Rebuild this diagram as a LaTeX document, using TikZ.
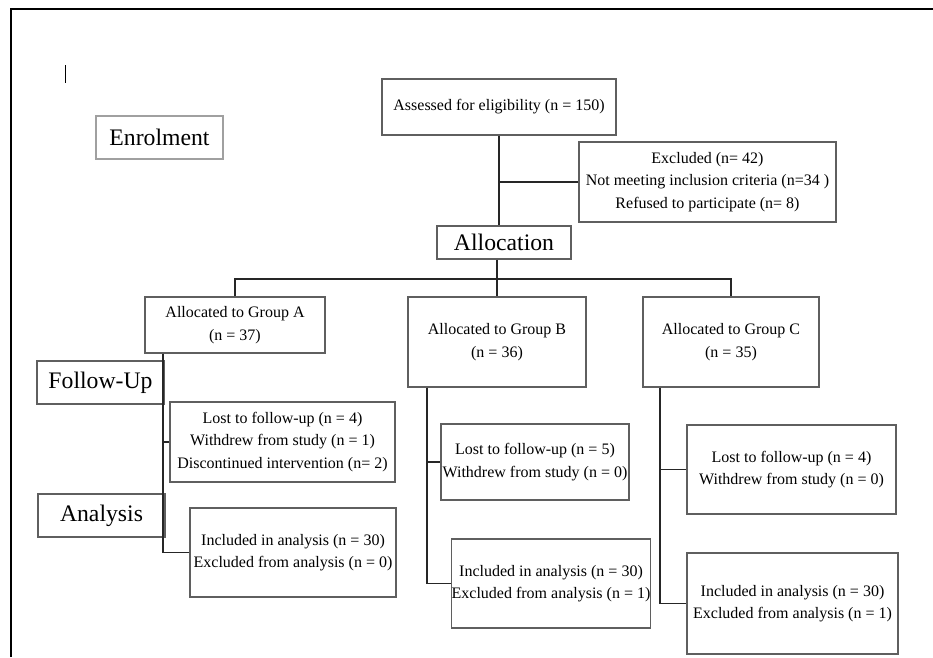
\documentclass[tikz,border=0pt]{standalone}
\usepackage{fontspec}
\setmainfont{Liberation Serif}
\definecolor{boxgray}{RGB}{95,95,95}
\definecolor{lightgray}{RGB}{160,160,160}
\tikzset{
  box/.style 2 args={draw=boxgray, line width=1.3pt, align=center, inner sep=0pt,
    minimum width=#1, minimum height=#2, font=\fontsize{16}{22.5}\selectfont},
  stage/.style 2 args={box={#1}{#2}, font=\fontsize{23.7}{28}\selectfont},
  link/.style={draw=black!85, line width=1.4pt},
}
\begin{document}
\begin{tikzpicture}[x=1pt,y=-1pt]
  \useasboundingbox (0,0) rectangle (933,657);
  \draw[line width=2pt] (11,657) -- (11,9) -- (933,9);
  \draw[line width=1pt] (65,65) -- (65,83);
  \draw
    (159.5,137.5) node[stage={127pt}{43pt}, draw=lightgray] (enrol){Enrolment}
    (499,107) node[box={234pt}{56pt}] (assess){Assessed for eligibility (n = 150)}
    (707.5,182) node[box={257pt}{80pt}] (excl){Excluded (n= 42)\\Not meeting inclusion criteria (n=34 )\\Refused to participate (n= 8)}
    (504,242.5) node[stage={134pt}{33pt}] (alloc){Allocation}
    (235,325) node[box={180pt}{56pt}] (grpA){Allocated to Group A\\(n = 37)}
    (497,342) node[box={178pt}{90pt}] (grpB){Allocated to Group B\\(n = 36)}
    (731,342) node[box={176pt}{90pt}] (grpC){Allocated to Group C\\(n = 35)}
    (100.5,382.5) node[stage={127pt}{43pt}] (fu){Follow-Up}
    (101.5,515.5) node[stage={127pt}{43pt}] (ana){Analysis}
    (282.5,442) node[box={225pt}{80pt}] (lostA){Lost to follow-up (n = 4)\\Withdrew from study (n = 1)\\Discontinued intervention (n= 2)}
    (293,552.5) node[box={206pt}{89pt}] (inclA){Included in analysis (n = 30)\\Excluded from analysis (n = 0)}
    (535,462) node[box={188pt}{76pt}] (lostB){Lost to follow-up (n = 5)\\Withdrew from study (n = 0)}
    (551,583.5) node[box={198pt}{89pt}] (inclB){Included in analysis (n = 30)\\Excluded from analysis (n = 1)}
    (791.5,469.5) node[box={209pt}{89pt}] (lostC){Lost to follow-up (n = 4)\\Withdrew from study (n = 0)}
    (792.5,603.5) node[box={211pt}{101pt}] (inclC){Included in analysis (n = 30)\\Excluded from analysis (n = 1)};
  \coordinate (split) at (497,279);
  \coordinate (spineA) at (163,0);
  \coordinate (spineB) at (427,0);
  \coordinate (spineC) at (660,0);
  \begin{scope}[link]
    \draw (assess.south) to (assess.south |- alloc.north);
    \draw (excl.west) to (excl.west -| assess.south);
    \draw (alloc.south -| split) to (split);
    \draw (grpA.north) |- (split) -| (grpC.north);
    \draw (split) to (grpB.north);
    \draw (grpA.south -| spineA) |- (lostA.west);
    \draw (grpA.south -| spineA) |- (inclA.west);
    \draw (grpB.south -| spineB) |- (lostB.west);
    \draw (grpB.south -| spineB) |- (inclB.west);
    \draw (grpC.south -| spineC) |- (lostC.west);
    \draw (grpC.south -| spineC) |- (inclC.west);
  \end{scope}
\end{tikzpicture}
\end{document}
